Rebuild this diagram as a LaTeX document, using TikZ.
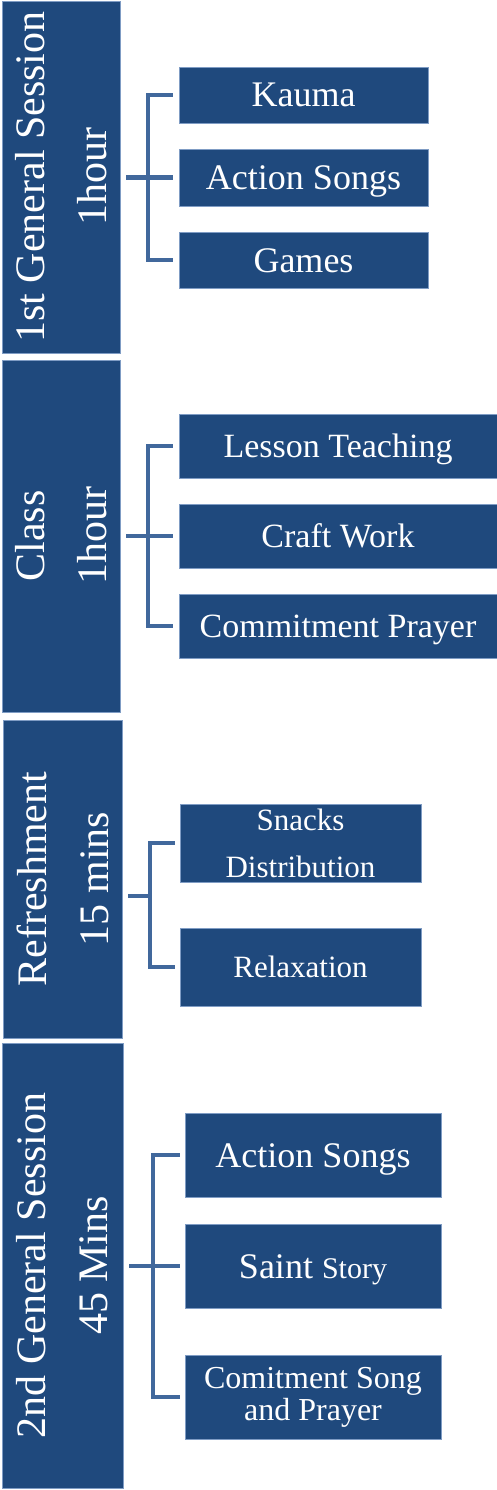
\documentclass[tikz,border=0pt]{standalone}
\usepackage{fontspec}
\setmainfont{Liberation Serif}
\definecolor{boxblue}{HTML}{1F497D}
\definecolor{boxedge}{HTML}{7F9CC4}
\definecolor{brblue}{HTML}{41689C}
\begin{document}
\begin{tikzpicture}[x=1pt,y=-1pt,
  leftbox/.style={fill=boxblue,draw=boxedge,line width=0.8pt,text=white,rotate=90,inner sep=0,align=center,font=\fontsize{42}{62}\selectfont},
  itembox/.style={fill=boxblue,draw=boxedge,line width=0.8pt,text=white,inner sep=0,align=center},
  oneline/.style={text height=#1,text depth=0pt},
  br/.style={draw=brblue,line width=4.2pt,line join=miter}]
\useasboundingbox (0,0) rectangle (497,1490);
% Section 1
\node[leftbox,minimum width=352,minimum height=118] (L1) at (61,177) {1st General Session\\1hour};
\node[itembox,oneline=24pt,minimum width=249,minimum height=56,font=\fontsize{36}{40}\selectfont] (a1) at (303.5,95) {Kauma};
\node[itembox,oneline=24pt,minimum width=249,minimum height=57,font=\fontsize{36}{40}\selectfont] (a2) at (303.5,177.5) {Action Songs};
\node[itembox,oneline=24pt,minimum width=249,minimum height=56,font=\fontsize{36}{40}\selectfont] (a3) at (303.5,260) {Games};
\draw[br] ([xshift=-6]a1.west) -- ++(-25,0) |- ([xshift=-6]a3.west);
\draw[br] ([xshift=6]L1.south |- a2.west) -- ([xshift=-6]a2.west);
% Section 2
\node[leftbox,minimum width=352,minimum height=118] (L2) at (61,536) {Class\\1hour};
\node[itembox,oneline=22.5pt,minimum width=318,minimum height=64,font=\fontsize{34}{40}\selectfont] (b1) at (338,446) {Lesson Teaching};
\node[itembox,oneline=22.5pt,minimum width=318,minimum height=64,font=\fontsize{34}{40}\selectfont] (b2) at (338,536) {Craft Work};
\node[itembox,oneline=22.5pt,minimum width=318,minimum height=64,font=\fontsize{34}{40}\selectfont] (b3) at (338,626) {Commitment Prayer};
\draw[br] ([xshift=-6]b1.west) -- ++(-25,0) |- ([xshift=-6]b3.west);
\draw[br] ([xshift=6]L2.south |- b2.west) -- ([xshift=-6]b2.west);
% Section 3
\node[leftbox,minimum width=318,minimum height=119] (L3) at (62.5,879) {Refreshment\\15 mins};
\node[itembox,minimum width=241,minimum height=78,font=\fontsize{31}{47}\selectfont] (c1) at (300.5,843) {Snacks\\Distribution};
\node[itembox,oneline=20.5pt,minimum width=241,minimum height=78,font=\fontsize{31}{40}\selectfont] (c2) at (300.5,967) {Relaxation};
\coordinate (c3stem) at (150,896);
\draw[br] ([xshift=-5]c1.west) -- ++(-25,0) |- ([xshift=-5]c2.west);
\draw[br] ([xshift=6]L3.south |- c3stem) -- (c3stem);
% Section 4
\node[leftbox,minimum width=445,minimum height=121] (L4) at (62.5,1265.5) {2nd General Session\\45 Mins};
\node[itembox,oneline=24pt,minimum width=256,minimum height=84,font=\fontsize{36}{40}\selectfont] (d1) at (313,1155) {Action Songs};
\node[itembox,oneline=24pt,minimum width=256,minimum height=84,font=\fontsize{36}{40}\selectfont] (d2) at (313,1266) {Saint {\fontsize{30}{40}\selectfont Story}};
\node[itembox,minimum width=256,minimum height=84,font=\fontsize{32}{32}\selectfont] (d3) at (313,1397) {Comitment Song\\and Prayer};
\draw[br] ([xshift=-5]d1.west) -- ++(-27,0) |- ([xshift=-5]d3.west);
\draw[br] ([xshift=6]L4.south |- d2.west) -- ([xshift=-5]d2.west);
\end{tikzpicture}
\end{document}
